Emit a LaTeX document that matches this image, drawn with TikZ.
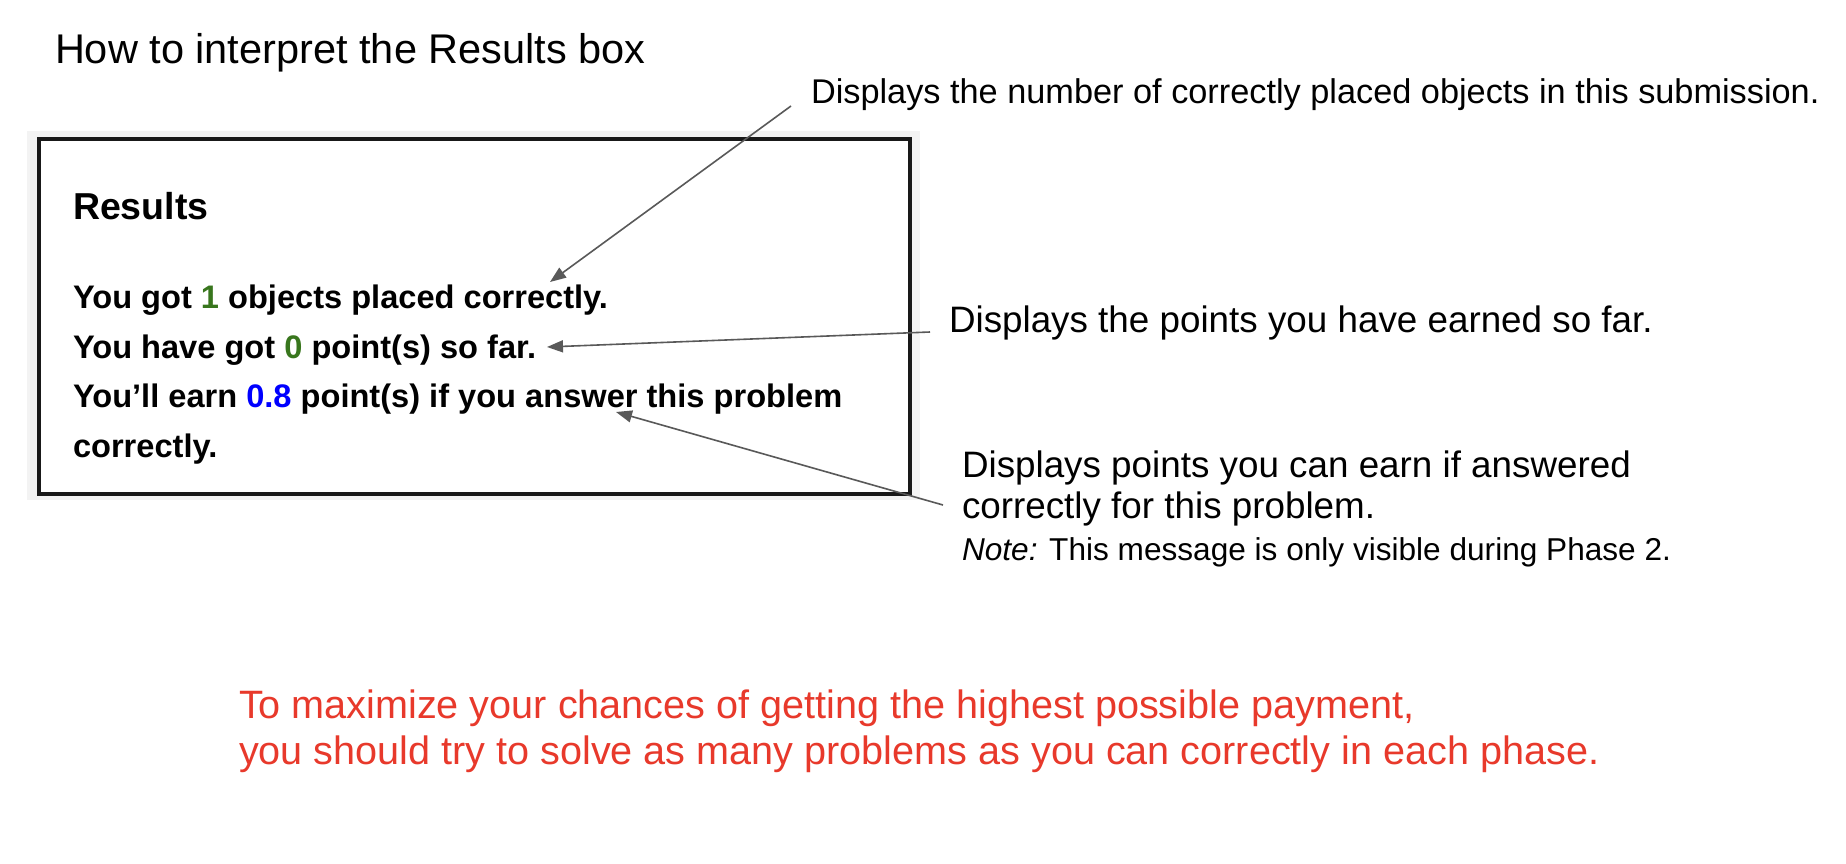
\documentclass[tikz,border=0pt]{standalone}
\usepackage{fontspec}
\setmainfont{Liberation Sans}
\usetikzlibrary{arrows.meta}
\definecolor{okgreen}{HTML}{38761D}
\definecolor{ptblue}{HTML}{0000FF}
\definecolor{hintred}{HTML}{E8392B}
\definecolor{arrowgray}{HTML}{595959}
\definecolor{backdrop}{HTML}{F3F3F3}

\begin{document}
\begin{tikzpicture}[x=1pt,y=-1pt,
  txt/.style={anchor=base west, inner sep=0pt, outer sep=0pt},
  heading/.style={txt, font=\fontsize{41.5}{50}\selectfont},
  boxhead/.style={txt, font=\fontsize{37.5}{45}\selectfont\bfseries},
  boxline/.style={txt, font=\fontsize{32.6}{40}\selectfont\bfseries},
  remark/.style={txt, font=\fontsize{36.8}{44}\selectfont},
  smallremark/.style={txt, font=\fontsize{31.6}{38}\selectfont},
  hint/.style={txt, text=hintred, font=\fontsize{39.6}{47}\selectfont},
  pointer/.style={draw=arrowgray, line width=1.6pt,
    -{Triangle[length=16pt,width=12pt]}}]
\useasboundingbox (0,0) rectangle (1846,864);
\fill[white] (0,0) rectangle (1846,864);

% heading
\node[heading] (title) at (55,64) {How to interpret the Results box};

% the Results panel with its light backdrop
\fill[backdrop] (27,131) rectangle (920,500);
\node[draw=black!90, fill=white, line width=4pt, anchor=north west,
      minimum width=871pt, minimum height=355pt, inner sep=0pt]
      (resbox) at (37,137) {};

\node[boxhead] (reshead) at (73,219) {Results};
\node[boxline] (line1) at (73,308) {You got \textcolor{okgreen}{1} objects placed correctly.};
\node[boxline] (line2) at (73,358) {You have got \textcolor{okgreen}{0} point(s) so far.};
\node[boxline] (line3) at (73,407) {You’ll earn \textcolor{ptblue}{0.8} point(s) if you answer this problem};
\node[boxline] (line4) at (73,457) {correctly.};

% explanations
\node[remark, font=\fontsize{34.3}{41}\selectfont] (ex1) at (811,104)
  {Displays the number of correctly placed objects in this submission.};
\node[remark] (ex2) at (949,332) {Displays the points you have earned so far.};
\node[remark] (ex3a) at (962,477) {Displays points you can earn if answered};
\node[remark] (ex3b) at (962,518) {correctly for this problem.};
\node[smallremark] (ex3c) at (962,560) {\textit{Note:} This message is only visible during Phase 2.};

% pointers from the explanations to the panel lines
\coordinate (p1) at (791,106);
\coordinate (t1) at (550,282);
\coordinate (p2) at (930,332);
\coordinate (t2) at (547,347);
\coordinate (p3) at (943,505);
\coordinate (t3) at (616,412);
\draw[pointer] (p1) -- (t1);
\draw[pointer] (p2) -- (t2);
\draw[pointer] (p3) -- (t3);

% advice
\node[hint] (adv1) at (239,718) {To maximize your chances of getting the highest possible payment,};
\node[hint] (adv2) at (239,764) {you should try to solve as many problems as you can correctly in each phase.};
\end{tikzpicture}
\end{document}
